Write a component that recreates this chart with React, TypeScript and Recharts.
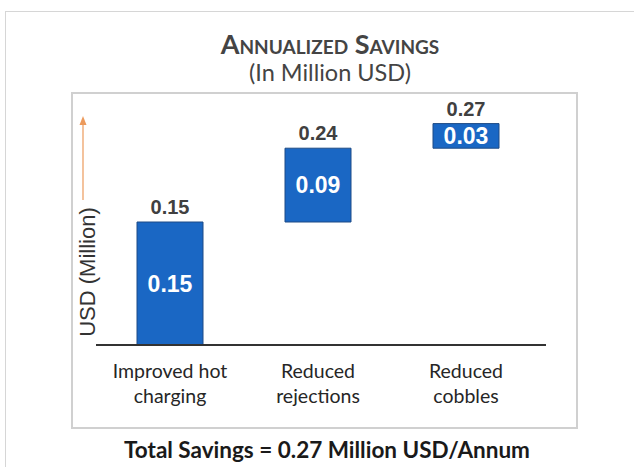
import { Bar, BarChart, LabelList, XAxis, YAxis } from "recharts";

const categories = ["Improved hot\ncharging", "Reduced\nrejections", "Reduced\ncobbles"];
const baseValues = [0, 0.15, 0.24];
const savings = [0.15, 0.09, 0.03];
const cumulative = [0.15, 0.24, 0.27];

const data = categories.map((name, i) => ({
  name,
  base: baseValues[i],
  value: savings[i],
  total: cumulative[i],
}));

const BLUE = "#1a67c4";
const TEXT_FONT = "Lato, 'Open Sans', sans-serif";

function CategoryTick(props: any) {
  const { x, y, payload } = props;
  const lines = String(payload.value).split("\n");
  return (
    <text x={x} y={y} textAnchor="middle" fill="#262626" fontFamily={TEXT_FONT} fontSize={19.5}>
      {lines.map((line, i) => (
        <tspan key={i} x={x} dy={25}>
          {line}
        </tspan>
      ))}
    </text>
  );
}

export default function App() {
  return (
    <div
      style={{
        position: "absolute",
        left: 0,
        top: 0,
        width: 634,
        height: 467,
        overflow: "hidden",
        background: "#fff",
      }}
    >
      {/* outer frame */}
      <div
        style={{
          position: "absolute",
          left: 5,
          top: 11,
          width: 660,
          height: 500,
          border: "1.5px solid #d6d6d6",
        }}
      />
      {/* plot frame */}
      <div
        style={{
          position: "absolute",
          left: 71,
          top: 92,
          width: 503,
          height: 333,
          border: "2px solid #d0d0d0",
        }}
      />
      <div
        style={{
          position: "absolute",
          left: 0,
          top: 31,
          width: 660,
          textAlign: "center",
          fontFamily: TEXT_FONT,
          color: "#444",
          fontSize: 27,
          lineHeight: "26px",
          fontWeight: 700,
          fontVariant: "small-caps",
        }}
      >
        Annualized Savings
      </div>
      <div
        style={{
          position: "absolute",
          left: 0,
          top: 61,
          width: 660,
          textAlign: "center",
          fontFamily: TEXT_FONT,
          color: "#444",
          fontSize: 23.5,
          lineHeight: "23px",
        }}
      >
        (In Million USD)
      </div>

      <div style={{ position: "absolute", left: 0, top: 0 }}>
        <BarChart
          width={634}
          height={467}
          data={data}
          barSize={66}
          margin={{ top: 99, right: 88, bottom: 62, left: 96 }}
        >
          <YAxis hide domain={[0, 0.3]} />
          <XAxis
            dataKey="name"
            padding={{ left: 0, right: 6 }}
            axisLine={{ stroke: "#333", strokeWidth: 2 }}
            tickLine={false}
            height={60}
            interval={0}
            tick={<CategoryTick />}
          />
          <Bar dataKey="base" stackId="w" fill="transparent" isAnimationActive={false} />
          <Bar
            dataKey="value"
            stackId="w"
            fill={BLUE}
            stroke="#1d4a86"
            strokeWidth={1}
            isAnimationActive={false}
          >
            <LabelList
              dataKey="value"
              position="center"
              fill="#fff"
              fontFamily="'Liberation Sans', Arial, sans-serif"
              fontWeight={700}
              fontSize={23}
              formatter={(v: any) => Number(v).toFixed(2)}
            />
            <LabelList
              dataKey="total"
              position="top"
              offset={8}
              fill="#404040"
              fontFamily="'Liberation Sans', Arial, sans-serif"
              fontWeight={700}
              fontSize={20}
              formatter={(v: any) => Number(v).toFixed(2)}
            />
          </Bar>
        </BarChart>
      </div>

      {/* y-axis label with arrow */}
      <svg style={{ position: "absolute", left: 0, top: 0 }} width={634} height={467}>
        <line x1={83} y1={200} x2={83} y2={124} stroke="#ec9a5c" strokeWidth={1.2} />
        <path d="M79.5,125 L83,116 L86.5,125 Z" fill="#ec9a5c" />
        <text
          transform="translate(95,272) rotate(-90)"
          textAnchor="middle"
          fontFamily="'Liberation Sans', Arial, sans-serif"
          fontSize={22}
          fill="#333"
        >
          USD (Million)
        </text>
      </svg>

      <div
        style={{
          position: "absolute",
          left: 0,
          top: 436,
          width: 654,
          textAlign: "center",
          fontFamily: TEXT_FONT,
          fontWeight: 700,
          fontSize: 22.5,
          color: "#1a1a1a",
        }}
      >
        Total Savings = 0.27 Million USD/Annum
      </div>
    </div>
  );
}
